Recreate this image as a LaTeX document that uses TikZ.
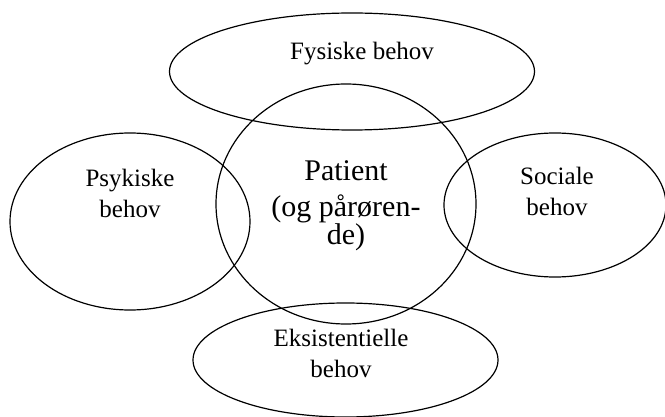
\documentclass[tikz,border=0pt]{standalone}
\usepackage{fontspec}
\setmainfont{Liberation Serif}
\usetikzlibrary{shapes.geometric}

\begin{document}
\begin{tikzpicture}[
  x = 0.75pt, y = -0.75pt,
  behov/.style = {draw, ellipse, line width = 0.9pt, inner sep = 0pt},
  tekst/.style = {align = center, anchor = base, inner sep = 0pt,
                  font = \fontsize{18.75}{23.5}\selectfont},
  stor/.style = {tekst, font = \fontsize{22.5}{21}\selectfont},
  ]
  \useasboundingbox (0,0) rectangle (665,417);
  \node[behov, minimum width = 273.75pt, minimum height = 87.75pt] (fysisk) at (352,71.5) {};
  \node[behov, minimum width = 195pt, minimum height = 180pt] (patient) at (346,204) {};
  \node[behov, minimum width = 180pt, minimum height = 132.75pt] (psykisk) at (130,221.5) {};
  \node[behov, minimum width = 166.5pt, minimum height = 108pt] (social) at (555,205) {};
  \node[behov, minimum width = 228.75pt, minimum height = 85.5pt] (eksistens) at (345.5,360) {};

  % base = baseline of the last line
  \node[tekst] (fysisktekst) at (362,60) {Fysiske behov};
  \node[tekst] (psykisktekst) at (130,218) {Psykiske\\behov};
  \node[tekst] (socialtekst) at (557,216) {Sociale\\behov};
  \node[stor] (patienttekst) at (346,245) {Patient\\[6pt](og pårøren-\\de)};
  \node[tekst] (eksistenstekst) at (341,378) {Eksistentielle\\behov};
\end{tikzpicture}
\end{document}
